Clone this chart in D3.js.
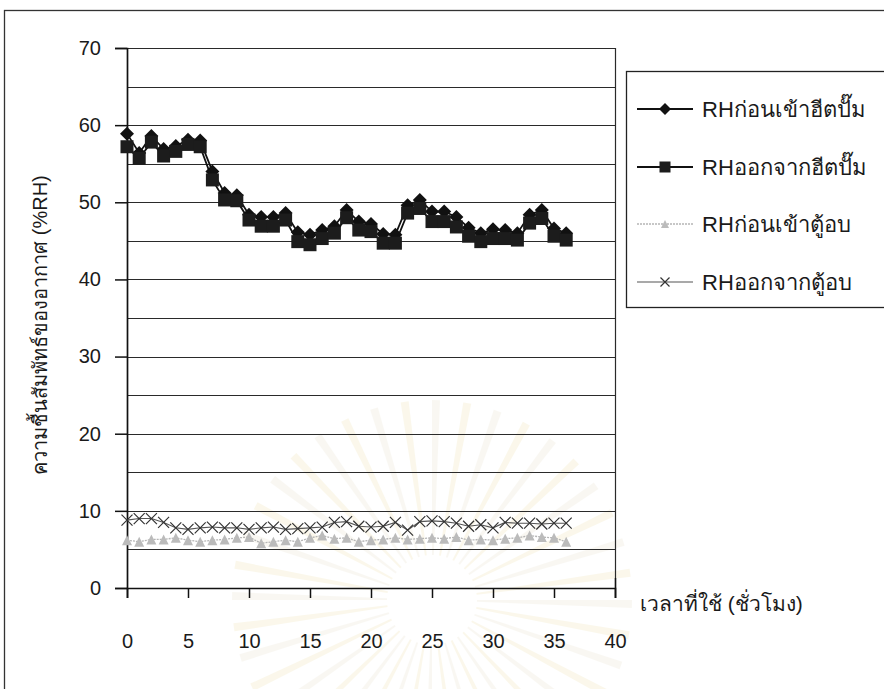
<!DOCTYPE html>
<html>
<head>
<meta charset="utf-8">
<script src="https://cdn.jsdelivr.net/npm/d3@7"></script>
<style>
  html, body { margin: 0; padding: 0; background: #fff; }
  svg { display: block; }
  text { font-family: Arial, "Liberation Sans", "Noto Sans", sans-serif; fill: #1a1a1a; }
</style>
</head>
<body>
<svg id="chart" width="884" height="689"></svg>
<script>
// Hours of operation (x values)
const hours = d3.range(0, 37);

// Relative humidity readings (%RH)
const rhBeforeHeatPump = [58.9, 56.4, 58.6, 56.9, 57.3, 58.1, 58.0, 54.0, 51.2, 50.9, 48.4, 48.1, 48.1, 48.6, 46.1, 45.8, 46.4, 46.9, 49.0, 47.5, 47.2, 45.9, 45.8, 49.6, 50.3, 48.8, 48.8, 48.1, 46.7, 46.0, 46.5, 46.4, 46.0, 48.4, 49.0, 46.6, 46.0];
const rhAfterHeatPump  = [57.2, 55.7, 57.8, 56.0, 56.6, 57.5, 57.2, 52.9, 50.3, 50.2, 47.7, 46.9, 46.9, 47.7, 44.9, 44.5, 45.3, 46.0, 48.0, 46.4, 46.2, 44.7, 44.7, 48.6, 49.2, 47.5, 47.5, 46.8, 45.6, 44.9, 45.3, 45.3, 45.1, 47.3, 47.9, 45.6, 45.1];
const rhBeforeDryer    = [6.2, 6.0, 6.3, 6.3, 6.5, 6.2, 6.0, 6.2, 6.3, 6.5, 6.6, 5.8, 6.0, 6.2, 6.0, 6.5, 6.8, 6.4, 6.5, 6.0, 6.2, 6.3, 6.5, 6.3, 6.4, 6.5, 6.4, 6.6, 6.2, 6.3, 6.2, 6.4, 6.5, 6.8, 6.6, 6.5, 6.0];
const rhAfterDryer     = [8.8, 9.0, 9.0, 8.5, 7.8, 7.6, 7.8, 7.9, 7.8, 7.8, 7.6, 7.8, 7.9, 7.6, 7.7, 7.8, 7.9, 8.5, 8.6, 8.0, 7.9, 8.0, 8.5, 7.5, 8.6, 8.7, 8.6, 8.4, 8.0, 8.2, 7.8, 8.5, 8.4, 8.4, 8.3, 8.4, 8.4];

const seriesNames = ["RHก่อนเข้าฮีตปั๊ม", "RHออกจากฮีตปั๊ม", "RHก่อนเข้าตู้อบ", "RHออกจากตู้อบ"];
const xTicks = [0, 5, 10, 15, 20, 25, 30, 35, 40];
const yTicks = [0, 10, 20, 30, 40, 50, 60, 70];
const yGrid = d3.range(5, 75, 5);
const xTitle = "เวลาที่ใช้ (ชั่วโมง)";
const yTitle = "ความชื้นสัมพัทธ์ของอากาศ (%RH)";

const series = [
  { name: seriesNames[0], values: rhBeforeHeatPump, line: "#111", width: 1.8, marker: "diamond", fill: "#111" },
  { name: seriesNames[1], values: rhAfterHeatPump,  line: "#111", width: 1.8, marker: "square",  fill: "#1c1c1c" },
  { name: seriesNames[2], values: rhBeforeDryer,    line: "#b5b5b5", width: 1.3, marker: "triangle", fill: "#bbbbbb", dash: "2,1" },
  { name: seriesNames[3], values: rhAfterDryer,     line: "#555", width: 1.1, marker: "cross",   fill: "none" }
];

const svg = d3.select("#chart");

// Very faint sunburst seal printed behind the page content
const seal = svg.append("g").attr("transform", "translate(432,600)").attr("opacity", 0.28);
d3.range(0, 40).forEach(k => {
  const a0 = (k / 40) * 2 * Math.PI, a1 = a0 + 0.04;
  const r0 = 45, r1 = 200;
  seal.append("path")
    .attr("d", `M${r0*Math.cos(a0)},${r0*Math.sin(a0)}L${r1*Math.cos(a0)},${r1*Math.sin(a0)}L${r1*Math.cos(a1)},${r1*Math.sin(a1)}L${r0*Math.cos(a1)},${r0*Math.sin(a1)}Z`)
    .attr("fill", k % 2 ? "#f1e6b8" : "#ece6d4");
});

// Outer frame
svg.append("rect")
  .attr("x", 4.5).attr("y", 10.5).attr("width", 900).attr("height", 700)
  .attr("fill", "none").attr("stroke", "#333").attr("stroke-width", 1.3);

const x = d3.scaleLinear().domain([0, 40]).range([127, 615]);
const y = d3.scaleLinear().domain([0, 70]).range([588, 48]);

// Horizontal gridlines
svg.append("g").selectAll("line").data(yGrid).join("line")
  .attr("x1", x(0)).attr("x2", x(40))
  .attr("y1", d => Math.round(y(d)) + 0.5).attr("y2", d => Math.round(y(d)) + 0.5)
  .attr("stroke", "#2a2a2a").attr("stroke-width", 1.2);

// Right edge of plot area
svg.append("line")
  .attr("x1", x(40) + 0.5).attr("x2", x(40) + 0.5)
  .attr("y1", y(70)).attr("y2", y(0))
  .attr("stroke", "#2a2a2a").attr("stroke-width", 1.2);

// Y axis
const yAxis = d3.axisLeft(y).tickValues(yTicks).tickSize(12).tickPadding(14).tickFormat(d3.format("d"));
const gy = svg.append("g").attr("transform", `translate(${x(0)},0)`).call(yAxis);
gy.select(".domain").attr("stroke", "#111").attr("stroke-width", 1.7);
gy.selectAll(".tick line").attr("stroke", "#111").attr("stroke-width", 1.5);
gy.selectAll(".tick text").attr("font-size", 20).attr("fill", "#1a1a1a")
  .attr("font-family", "Arial, 'Liberation Sans', sans-serif");

// X axis (labels sit well below the axis line)
const xAxis = d3.axisBottom(x).tickValues(xTicks).tickSize(10).tickPadding(36).tickFormat(d3.format("d"));
const gx = svg.append("g").attr("transform", `translate(0,${y(0)})`).call(xAxis);
gx.select(".domain").attr("stroke", "#111").attr("stroke-width", 1.7);
gx.selectAll(".tick line").attr("stroke", "#111").attr("stroke-width", 1.5);
gx.selectAll(".tick text").attr("font-size", 20).attr("fill", "#1a1a1a")
  .attr("font-family", "Arial, 'Liberation Sans', sans-serif");
gx.select(".tick:last-of-type line").attr("y1", -10);

// Axis titles
svg.append("text")
  .attr("transform", `translate(47,${325}) rotate(-90)`)
  .attr("text-anchor", "middle")
  .attr("font-size", 20)
  .text(yTitle);

svg.append("text")
  .attr("x", 640).attr("y", 611)
  .attr("font-size", 21)
  .text(xTitle);

// Marker drawing
function drawMarker(g, type, color, size) {
  const s = size;
  if (type === "diamond") {
    g.append("path").attr("d", `M0,${-s/2}L${s/2},0L0,${s/2}L${-s/2},0Z`).attr("fill", color);
  } else if (type === "square") {
    g.append("rect").attr("x", -s/2).attr("y", -s/2).attr("width", s).attr("height", s).attr("fill", color);
  } else if (type === "triangle") {
    g.append("path").attr("d", `M0,${-s/2}L${s/2},${s/2}L${-s/2},${s/2}Z`).attr("fill", color);
  } else if (type === "cross") {
    g.append("path").attr("d", `M${-s/2},${-s/2}L${s/2},${s/2}M${-s/2},${s/2}L${s/2},${-s/2}`)
      .attr("stroke", "#333").attr("stroke-width", 1.2).attr("fill", "none");
  }
}

const markerSize = { diamond: 14, square: 13, triangle: 10, cross: 11 };

// Series lines and markers
const lineGen = d3.line().x((d, i) => x(hours[i])).y(d => y(d));
series.forEach(s => {
  svg.append("path")
    .datum(s.values)
    .attr("d", lineGen)
    .attr("fill", "none")
    .attr("stroke", s.line)
    .attr("stroke-width", s.width)
    .attr("stroke-dasharray", s.dash || null);
  const mg = svg.append("g");
  s.values.forEach((v, i) => {
    const g = mg.append("g").attr("transform", `translate(${x(hours[i])},${y(v)})`);
    drawMarker(g, s.marker, s.fill, markerSize[s.marker]);
  });
});

// Legend
const legend = svg.append("g");
legend.append("rect")
  .attr("x", 626.5).attr("y", 71.5).attr("width", 270).attr("height", 236)
  .attr("fill", "#fff").attr("stroke", "#222").attr("stroke-width", 1.3);
const legendY = [109, 167, 224, 282];
series.forEach((s, i) => {
  const ly = legendY[i];
  legend.append("line")
    .attr("x1", 637).attr("x2", 693).attr("y1", ly).attr("y2", ly)
    .attr("stroke", s.line).attr("stroke-width", s.width)
    .attr("stroke-dasharray", s.dash || null);
  const g = legend.append("g").attr("transform", `translate(665,${ly})`);
  drawMarker(g, s.marker, s.fill, markerSize[s.marker] - 2);
  legend.append("text")
    .attr("x", 702).attr("y", ly + 8)
    .attr("font-size", 22)
    .text(s.name);
});
</script>
</body>
</html>
